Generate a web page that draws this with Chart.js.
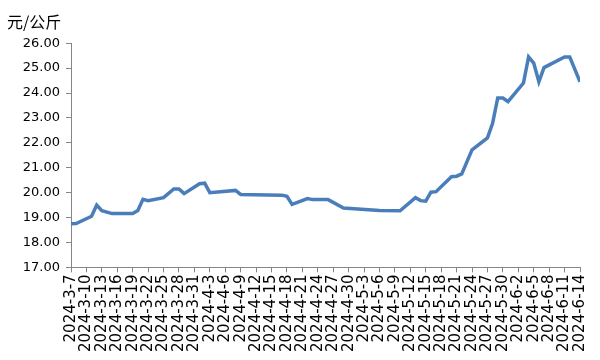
<!DOCTYPE html>
<html>
<head>
<meta charset="utf-8">
<script src="https://cdn.jsdelivr.net/npm/chart.js@4"></script>
<style>
  body { margin: 0; background: #fff; }
  #wrap { width: 600px; height: 360px; }
</style>
</head>
<body>
<div id="wrap"><canvas id="myChart"></canvas></div>
<script>
// price per date (元/公斤)
let dates = ['2024-3-7', '2024-3-8', '2024-3-11', '2024-3-12', '2024-3-13', '2024-3-15', '2024-3-19', '2024-3-20',
    '2024-3-21', '2024-3-22', '2024-3-25', '2024-3-27', '2024-3-28', '2024-3-29', '2024-4-1', '2024-4-2',
    '2024-4-3', '2024-4-8', '2024-4-9', '2024-4-17', '2024-4-18', '2024-4-19', '2024-4-22', '2024-4-23',
    '2024-4-26', '2024-4-29', '2024-5-6', '2024-5-10', '2024-5-13', '2024-5-14', '2024-5-15', '2024-5-16',
    '2024-5-17', '2024-5-20', '2024-5-21', '2024-5-22', '2024-5-24', '2024-5-27', '2024-5-28', '2024-5-29',
    '2024-5-30', '2024-5-31', '2024-6-3', '2024-6-4', '2024-6-5', '2024-6-6', '2024-6-7', '2024-6-11',
    '2024-6-12', '2024-6-14'];
let prices = [18.75, 18.76, 19.05, 19.5, 19.28, 19.16, 19.16, 19.28,
    19.73, 19.68, 19.8, 20.15, 20.15, 19.96, 20.36, 20.38,
    20.0, 20.09, 19.93, 19.9, 19.85, 19.53, 19.76, 19.72,
    19.72, 19.38, 19.28, 19.27, 19.8, 19.68, 19.66, 20.02,
    20.04, 20.64, 20.66, 20.75, 21.72, 22.2, 22.78, 23.8,
    23.8, 23.65, 24.4, 25.45, 25.2, 24.45, 25.02, 25.45,
    25.45, 24.45];
let startDate = '2024-3-7';
let endDate = '2024-6-14';

function toDay(s) {
    let p = s.split('-').map(Number);
    return Math.round((Date.UTC(p[0], p[1] - 1, p[2]) - Date.UTC(2024, 2, 7)) / 86400000);
}
function fromDay(d) {
    let t = new Date(Date.UTC(2024, 2, 7) + d * 86400000);
    return t.getUTCFullYear() + '-' + (t.getUTCMonth() + 1) + '-' + t.getUTCDate();
}

let points = dates.map((d, i) => ({x: toDay(d), y: prices[i]}));
let axisColor = '#868686';

const ctx = document.getElementById('myChart');
let myChart = new Chart(ctx, {
    type: 'line',
    data: {
        datasets: [{
            data: points,
            borderColor: '#4a7ebb',
            borderWidth: 3.5,
            pointRadius: 0,
            tension: 0,
            fill: false
        }]
    },
    options: {
        responsive: true,
        maintainAspectRatio: false,
        animation: false,
        layout: {padding: {left: 7, right: 17, top: 0, bottom: 6}},
        plugins: {
            legend: {display: false},
            tooltip: {enabled: false},
            title: {
                display: true,
                text: '元/公斤',
                align: 'start',
                color: '#000',
                font: {family: 'Noto Sans CJK SC', size: 16, weight: 'normal'},
                padding: {top: 12, bottom: 12}
            }
        },
        scales: {
            x: {
                type: 'linear',
                min: toDay(startDate),
                max: toDay(endDate),
                grid: {display: true, drawOnChartArea: false, color: axisColor, tickLength: 5},
                border: {color: axisColor},
                ticks: {
                    stepSize: 3,
                    autoSkip: false,
                    maxRotation: 90,
                    minRotation: 90,
                    color: '#000',
                    font: {family: 'DejaVu Sans', size: 15},
                    padding: 2,
                    callback: v => fromDay(v)
                }
            },
            y: {
                min: 17,
                max: 26,
                afterFit: s => { s.width = 64; },
                grid: {display: true, drawOnChartArea: false, color: axisColor, tickLength: 5},
                border: {color: axisColor},
                ticks: {
                    stepSize: 1,
                    color: '#000',
                    font: {family: 'DejaVu Sans', size: 13},
                    padding: 6,
                    callback: v => v.toFixed(2)
                }
            }
        }
    }
});
</script>
</body>
</html>
